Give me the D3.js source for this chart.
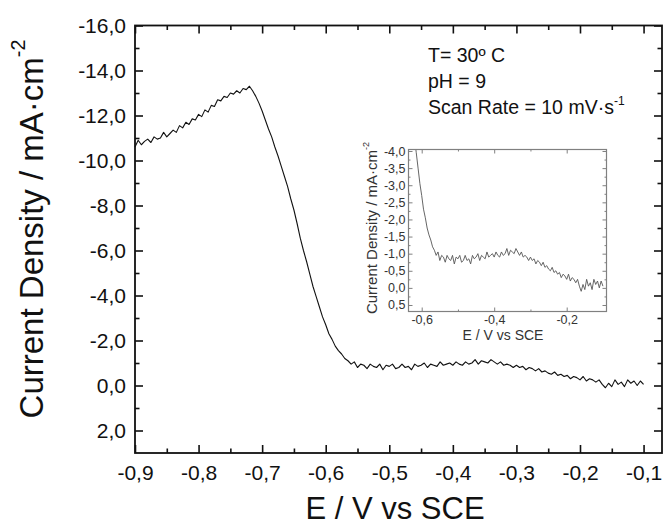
<!DOCTYPE html>
<html>
<head>
<meta charset="utf-8">
<script src="https://cdn.jsdelivr.net/npm/d3@7"></script>
<style>
  body { margin: 0; background: #fff; }
  svg text { font-family: "Liberation Sans", Arial, sans-serif; }
</style>
</head>
<body>
<script>
"use strict";

// polarisation scan: [E / V vs SCE, current density / mA cm-2]
const scan = [
  [-0.900, -10.60], [-0.895, -10.90], [-0.890, -10.70], [-0.885, -10.85], [-0.880, -10.95],
  [-0.875, -10.80], [-0.870, -11.05], [-0.865, -10.95], [-0.860, -11.00], [-0.855, -11.25],
  [-0.850, -11.05], [-0.845, -11.20], [-0.840, -11.35], [-0.835, -11.25], [-0.830, -11.55],
  [-0.825, -11.45], [-0.820, -11.70], [-0.815, -11.60], [-0.810, -11.85], [-0.805, -11.80],
  [-0.800, -12.05], [-0.795, -11.95], [-0.790, -12.25], [-0.785, -12.15], [-0.780, -12.45],
  [-0.775, -12.40], [-0.770, -12.70], [-0.765, -12.65], [-0.760, -12.85], [-0.755, -12.80],
  [-0.750, -13.00], [-0.745, -12.95], [-0.740, -13.10], [-0.735, -13.00], [-0.730, -13.20],
  [-0.725, -13.15], [-0.720, -13.30], [-0.715, -13.10], [-0.710, -12.85], [-0.705, -12.55],
  [-0.700, -12.20], [-0.695, -11.80], [-0.690, -11.40], [-0.685, -11.05], [-0.680, -10.60],
  [-0.675, -10.20], [-0.670, -9.75], [-0.665, -9.30], [-0.660, -8.85], [-0.655, -8.30],
  [-0.650, -7.80], [-0.645, -7.20], [-0.640, -6.55], [-0.635, -6.00], [-0.630, -5.50],
  [-0.625, -4.95], [-0.620, -4.40], [-0.615, -3.95], [-0.610, -3.50], [-0.605, -3.05],
  [-0.600, -2.70], [-0.595, -2.30], [-0.590, -2.05], [-0.585, -1.75], [-0.580, -1.55],
  [-0.575, -1.40], [-0.570, -1.20], [-0.565, -1.10], [-0.560, -0.95], [-0.555, -1.05],
  [-0.550, -0.80], [-0.545, -0.95], [-0.540, -0.90], [-0.535, -0.75], [-0.530, -0.95],
  [-0.525, -0.85], [-0.520, -0.80], [-0.515, -0.95], [-0.510, -0.70], [-0.505, -0.90],
  [-0.500, -0.85], [-0.495, -0.95], [-0.490, -0.75], [-0.485, -0.80], [-0.480, -0.95],
  [-0.475, -0.80], [-0.470, -0.85], [-0.465, -0.70], [-0.460, -0.95], [-0.455, -0.85],
  [-0.450, -0.90], [-0.445, -1.00], [-0.440, -0.80], [-0.435, -0.95], [-0.430, -0.90],
  [-0.425, -0.85], [-0.420, -1.05], [-0.415, -0.90], [-0.410, -0.95], [-0.405, -1.00],
  [-0.400, -0.90], [-0.395, -1.05], [-0.390, -0.95], [-0.385, -0.90], [-0.380, -1.05],
  [-0.375, -0.95], [-0.370, -1.00], [-0.365, -1.15], [-0.360, -0.95], [-0.355, -1.10],
  [-0.350, -1.05], [-0.345, -1.00], [-0.340, -1.15], [-0.335, -1.05], [-0.330, -0.95],
  [-0.325, -1.05], [-0.320, -0.90], [-0.315, -0.95], [-0.310, -0.90], [-0.305, -0.80],
  [-0.300, -0.90], [-0.295, -0.80], [-0.290, -0.85], [-0.285, -0.70], [-0.280, -0.80],
  [-0.275, -0.75], [-0.270, -0.65], [-0.265, -0.75], [-0.260, -0.60], [-0.255, -0.65],
  [-0.250, -0.55], [-0.245, -0.50], [-0.240, -0.60], [-0.235, -0.45], [-0.230, -0.50],
  [-0.225, -0.40], [-0.220, -0.45], [-0.215, -0.30], [-0.210, -0.40], [-0.205, -0.35],
  [-0.200, -0.25], [-0.195, -0.40], [-0.190, -0.20], [-0.185, -0.30], [-0.180, -0.25],
  [-0.175, -0.15], [-0.170, -0.25], [-0.165, -0.05], [-0.160, 0.10], [-0.155, -0.10],
  [-0.150, 0.05], [-0.145, -0.25], [-0.140, -0.05], [-0.135, -0.15], [-0.130, 0.05],
  [-0.125, -0.25], [-0.120, -0.10], [-0.115, -0.20], [-0.110, 0.00], [-0.105, -0.20],
  [-0.100, -0.05]
];

const mainXTicks = [-0.9, -0.8, -0.7, -0.6, -0.5, -0.4, -0.3, -0.2, -0.1];
const mainXMinor = [-0.85, -0.75, -0.65, -0.55, -0.45, -0.35, -0.25, -0.15];
const mainYTicks = [-16, -14, -12, -10, -8, -6, -4, -2, 0, 2];
const mainYMinor = [-15, -13, -11, -9, -7, -5, -3, -1, 1];

const insetXTicks = [-0.6, -0.4, -0.2];
const insetXMinor = [-0.5, -0.3];
const insetYTicks = [-4, -3.5, -3, -2.5, -2, -1.5, -1, -0.5, 0, 0.5];
const insetYMinor = [-3.75, -3.25, -2.75, -2.25, -1.75, -1.25, -0.75, -0.25, 0.25];

const conditions = ["T= 30º C", "pH = 9", "Scan Rate = 10 mV·s"];

// comma decimals and a plain hyphen, like the original figure
const fmt = d3.formatLocale({decimal: ",", thousands: ".", grouping: [3], currency: ["", ""], minus: "-"}).format(".1f");

const width = 664, height = 532;

const svg = d3.select("body").append("svg")
    .attr("width", width)
    .attr("height", height);

function addFrame(g, x, y, ticks, cfg) {
    /**
     * Box with inward ticks on all four sides, labels only bottom and left.
     */
    const [x0, x1] = x.range();
    const [y0, y1] = y.range();

    const sides = [
        {make: d3.axisBottom(x), at: `translate(0,${y0})`, major: ticks.xMajor, minor: ticks.xMinor, label: true, pad: cfg.padX},
        {make: d3.axisTop(x), at: `translate(0,${y1})`, major: ticks.xMajor, minor: ticks.xMinor, label: false, pad: 0},
        {make: d3.axisLeft(y), at: `translate(${x0},0)`, major: ticks.yMajor, minor: ticks.yMinor, label: true, pad: cfg.padY},
        {make: d3.axisRight(y), at: `translate(${x1},0)`, major: ticks.yMajor, minor: ticks.yMinor, label: false, pad: 0}
    ];

    sides.forEach(s => {
        const major = s.make.tickValues(s.major)
            .tickSize(-cfg.major)
            .tickPadding(s.pad)
            .tickFormat(s.label ? fmt : "");
        const gMaj = g.append("g").attr("transform", s.at).call(major);
        gMaj.select(".domain").remove();
        gMaj.attr("font-family", null).attr("font-size", cfg.font);
        gMaj.selectAll("line").attr("stroke", cfg.color).attr("stroke-width", cfg.tickWidth);
        gMaj.selectAll("text").attr("fill", cfg.textColor);

        const minorAxis = s.make.tickValues(s.minor).tickSize(-cfg.minor).tickFormat("");
        const gMin = g.append("g").attr("transform", s.at).call(minorAxis);
        gMin.select(".domain").remove();
        gMin.selectAll("line").attr("stroke", cfg.color).attr("stroke-width", cfg.tickWidth);
    });

    g.append("rect")
        .attr("x", x0)
        .attr("y", y1)
        .attr("width", x1 - x0)
        .attr("height", y0 - y1)
        .attr("fill", "none")
        .attr("stroke", cfg.color)
        .attr("stroke-width", cfg.frameWidth);
}

function addYTitle(g, cx, cy, size, fill) {
    const t = g.append("text")
        .attr("transform", `translate(${cx},${cy}) rotate(-90)`)
        .attr("text-anchor", "middle")
        .attr("font-size", size)
        .attr("fill", fill);
    t.append("tspan").text("Current Density / mA·cm");
    t.append("tspan").attr("dy", -0.55 * size).attr("font-size", size * 0.6).text("-2");
}

// ---- main plot ----
const x = d3.scaleLinear().domain([-0.9, -0.071]).range([135, 662]);
const y = d3.scaleLinear().domain([3, -16]).range([453, 25.5]);

const main = svg.append("g");

const line = d3.line()
    .x(d => x(d[0]))
    .y(d => y(d[1]));

main.append("path")
    .datum(scan)
    .attr("d", line)
    .attr("fill", "none")
    .attr("stroke", "#111")
    .attr("stroke-width", 1.1)
    .attr("stroke-linejoin", "round");

addFrame(main, x, y,
    {xMajor: mainXTicks, xMinor: mainXMinor, yMajor: mainYTicks, yMinor: mainYMinor},
    {major: 8, minor: 4.5, padX: 12, padY: 9, font: 21, color: "#111", textColor: "#111",
     tickWidth: 1.6, frameWidth: 1.8});

addYTitle(main, 43, 229, 33, "#111");

main.append("text")
    .attr("x", 395)
    .attr("y", 519)
    .attr("text-anchor", "middle")
    .attr("font-size", 31)
    .attr("fill", "#111")
    .text("E / V vs SCE");

// test conditions
const notes = main.append("g").attr("font-size", 19.5).attr("fill", "#111");
conditions.forEach((c, i) => {
    const t = notes.append("text")
        .attr("x", 428)
        .attr("y", 62 + i * 26)
        .text(c);
    if (i === conditions.length - 1) {
        t.append("tspan").attr("dy", -9).attr("font-size", 12).text("-1");
    }
});

// ---- inset: zoom on the low current part of the same scan ----
const ix = d3.scaleLinear().domain([-0.6364, -0.0902]).range([408.5, 606.5]);
const iy = d3.scaleLinear().domain([0.69, -4.044]).range([311.5, 149.5]);

const inset = svg.append("g");

inset.append("rect")
    .attr("x", 408.5).attr("y", 149.5)
    .attr("width", 198).attr("height", 162)
    .attr("fill", "#fff");

svg.append("clipPath").attr("id", "inset-clip")
  .append("rect")
    .attr("x", 408.5).attr("y", 149.5)
    .attr("width", 198).attr("height", 162);

const insetLine = d3.line()
    .x(d => ix(d[0]))
    .y(d => iy(d[1]));

inset.append("path")
    .datum(scan)
    .attr("d", insetLine)
    .attr("clip-path", "url(#inset-clip)")
    .attr("fill", "none")
    .attr("stroke", "#555")
    .attr("stroke-width", 0.9)
    .attr("stroke-linejoin", "round");

addFrame(inset, ix, iy,
    {xMajor: insetXTicks, xMinor: insetXMinor, yMajor: insetYTicks, yMinor: insetYMinor},
    {major: 4, minor: 2, padX: 4, padY: 3, font: 12.5, color: "#808080", textColor: "#333",
     tickWidth: 1, frameWidth: 1.2});

addYTitle(inset, 377, 228, 15, "#333");

inset.append("text")
    .attr("x", 503)
    .attr("y", 340)
    .attr("text-anchor", "middle")
    .attr("font-size", 14)
    .attr("fill", "#333")
    .text("E / V vs SCE");
</script>
</body>
</html>
